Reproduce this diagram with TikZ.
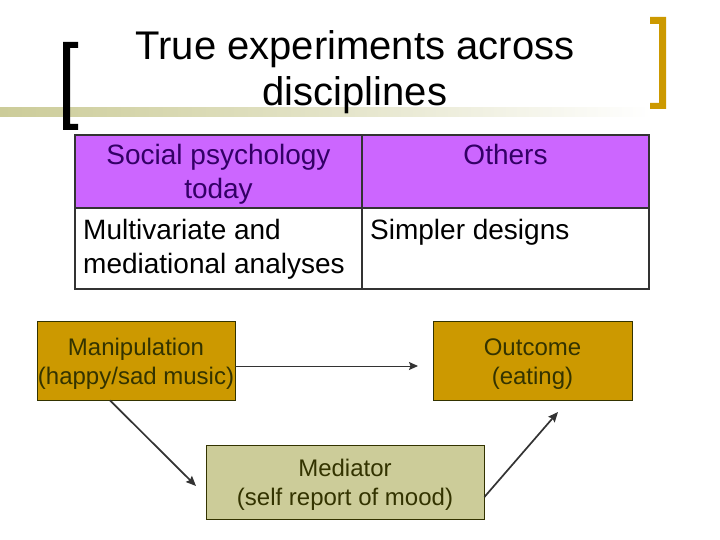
\documentclass[tikz,border=0pt]{standalone}
\usepackage{fontspec}
\setmainfont{Liberation Sans}
\usetikzlibrary{arrows.meta}
\definecolor{gold}{HTML}{CC9900}
\definecolor{khaki}{HTML}{CCCC99}
\definecolor{lilac}{HTML}{CC66FF}
\definecolor{boxtext}{HTML}{333300}
\definecolor{headtext}{HTML}{330066}
\definecolor{linegray}{HTML}{333333}
\newcommand{\topstrut}{\rule{0pt}{23pt}}
\tikzset{
  titletext/.style={inner sep=0pt, align=center, font=\fontsize{40}{46}\selectfont, text=black},
  celltext/.style={inner sep=0pt, font=\fontsize{28}{33.6}\selectfont},
  boxnode/.style={draw=boxtext, line width=0.8pt, inner sep=0pt, align=center,
    font=\fontsize{24}{29}\selectfont, text=boxtext},
  thinarrow/.style={draw=linegray, line width=1pt, -{Stealth[length=9pt,width=8pt,inset=1.5pt]}},
  thickarrow/.style={draw=linegray, line width=1.7pt, -{Stealth[length=10pt,width=8.5pt,inset=1.5pt]}},
  tableline/.style={draw=linegray, line width=1.6pt}
}
\begin{document}
\begin{tikzpicture}[x=1pt,y=-1pt]
\useasboundingbox (0,0) rectangle (720,540);
\fill[white] (0,0) rectangle (720,540);
% decorative band
\shade[left color=khaki, right color=white, middle color=khaki!55!white] (0,108) rectangle (650,117);
% left black bracket
\fill[black] (63,42) -- (78,42) -- (78,48) -- (70,48) -- (70,124) -- (78,124) -- (78,130) -- (63,130) -- cycle;
% right gold bracket
\fill[gold] (650,17) -- (666,17) -- (666,109) -- (650,109) -- (650,103) -- (659,103) -- (659,24) -- (650,24) -- cycle;
% title
\node[titletext] (title) at (355,72) {True experiments across\\disciplines};
% table
\fill[lilac] (75,135) rectangle (649,208);
\draw[tableline] (75,135) rectangle (649,289);
\draw[tableline] (75,208) -- (649,208);
\draw[tableline] (362,135) -- (362,289);
\node[celltext, text=headtext, align=center] (h1) at (218.5,174.5) {Social psychology\\today};
\node[celltext, text=headtext, anchor=base] (h2) at (505.5,165) {Others};
\node[celltext, text=black, align=left, anchor=west] (b1) at (83,249.5) {Multivariate and\\mediational analyses};
\node[celltext, text=black, anchor=base west] (b2) at (370,240) {Simpler designs};
% boxes
\node[boxnode, fill=gold, minimum width=198pt, minimum height=79pt] (man) at (136,360.5) {\topstrut Manipulation\\(happy/sad music)};
\node[boxnode, fill=gold, minimum width=199pt, minimum height=79pt] (out) at (532.5,360.5) {\topstrut Outcome\\(eating)};
\node[boxnode, fill=khaki, minimum width=278pt, minimum height=74pt] (med) at (345,482) {\topstrut Mediator\\(self report of mood)};
% free ends
\coordinate (e1) at (418,366);
\coordinate (e2) at (196,486);
\coordinate (e3) at (558,412);
% connectors
\draw[thinarrow] (man.east |- e1) -- (e1);
\draw[thickarrow] ([xshift=-26pt]man.south) -- (e2);
\draw[thickarrow] ([yshift=-15pt]med.east) -- (e3);
\end{tikzpicture}
\end{document}
